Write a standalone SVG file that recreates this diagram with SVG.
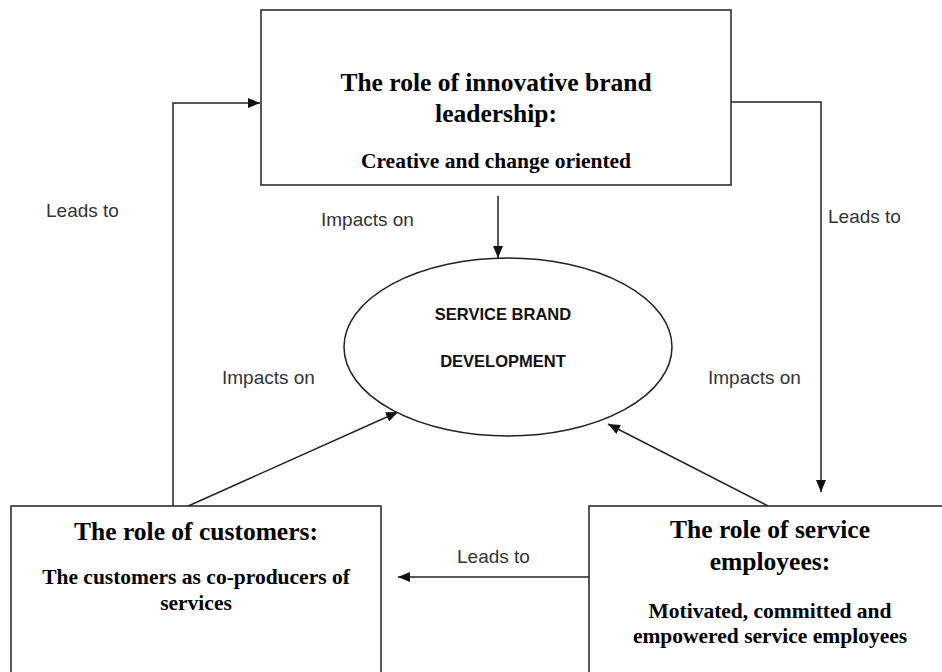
<svg xmlns="http://www.w3.org/2000/svg" width="942" height="672" viewBox="0 0 942 672">
<style>
.box{fill:#fff;stroke:#222;stroke-width:1.5}
.con{fill:none;stroke:#222;stroke-width:1.5}
.title{font-family:"Liberation Serif","Times New Roman",serif;font-weight:bold;font-size:25.5px;fill:#000;text-anchor:middle}
.sub{font-family:"Liberation Serif","Times New Roman",serif;font-weight:bold;font-size:21.5px;fill:#000;text-anchor:middle}
.ell{font-family:"Liberation Sans",Arial,sans-serif;font-weight:bold;font-size:16.5px;fill:#111;text-anchor:middle}
.lbl{font-family:"Liberation Sans",Arial,sans-serif;font-size:19px;fill:#333}
</style>
<defs>
<marker id="ah" viewBox="0 0 12 10" refX="12" refY="5" markerWidth="12" markerHeight="10" orient="auto" markerUnits="userSpaceOnUse">
<path d="M0,0 L12,5 L0,10 z" fill="#111"/>
</marker>
</defs>
<rect width="942" height="672" fill="#fff"/>
<g id="connectors">
<line class="con" x1="498" y1="196" x2="498" y2="258" marker-end="url(#ah)"/>
<polyline class="con" points="731,102 821,102 821,492" marker-end="url(#ah)"/>
<polyline class="con" points="173,507 173,103 260,103" marker-end="url(#ah)"/>
<line class="con" x1="186" y1="507" x2="398" y2="412" marker-end="url(#ah)"/>
<line class="con" x1="768" y1="506" x2="608" y2="424" marker-end="url(#ah)"/>
<line class="con" x1="589" y1="577" x2="398" y2="577" marker-end="url(#ah)"/>
<text class="lbl" x="46" y="217">Leads to</text>
<text class="lbl" x="321" y="226">Impacts on</text>
<text class="lbl" x="222" y="384">Impacts on</text>
<text class="lbl" x="708" y="384">Impacts on</text>
<text class="lbl" x="828" y="223">Leads to</text>
<text class="lbl" x="457" y="563">Leads to</text>
</g>
<g id="leadership">
<rect class="box" x="261" y="10" width="470" height="175"/>
<text class="title" x="496" y="91">The role of innovative brand</text>
<text class="title" x="496" y="122">leadership:</text>
<text class="sub" x="496" y="168">Creative and change oriented</text>
</g>
<g id="brand">
<ellipse cx="508" cy="347" rx="164" ry="89" fill="#fff" stroke="#222" stroke-width="1.5"/>
<text class="ell" x="503" y="320">SERVICE BRAND</text>
<text class="ell" x="503" y="367">DEVELOPMENT</text>
</g>
<g id="customers">
<rect class="box" x="11" y="506" width="370" height="190"/>
<text class="title" x="196" y="540">The role of customers:</text>
<text class="sub" x="196" y="584">The customers as co-producers of</text>
<text class="sub" x="196" y="610">services</text>
</g>
<g id="employees">
<rect class="box" x="589" y="506" width="380" height="190"/>
<text class="title" x="770" y="538">The role of service</text>
<text class="title" x="770" y="570">employees:</text>
<text class="sub" x="770" y="618">Motivated, committed and</text>
<text class="sub" x="770" y="643">empowered service employees</text>
</g>
</svg>
